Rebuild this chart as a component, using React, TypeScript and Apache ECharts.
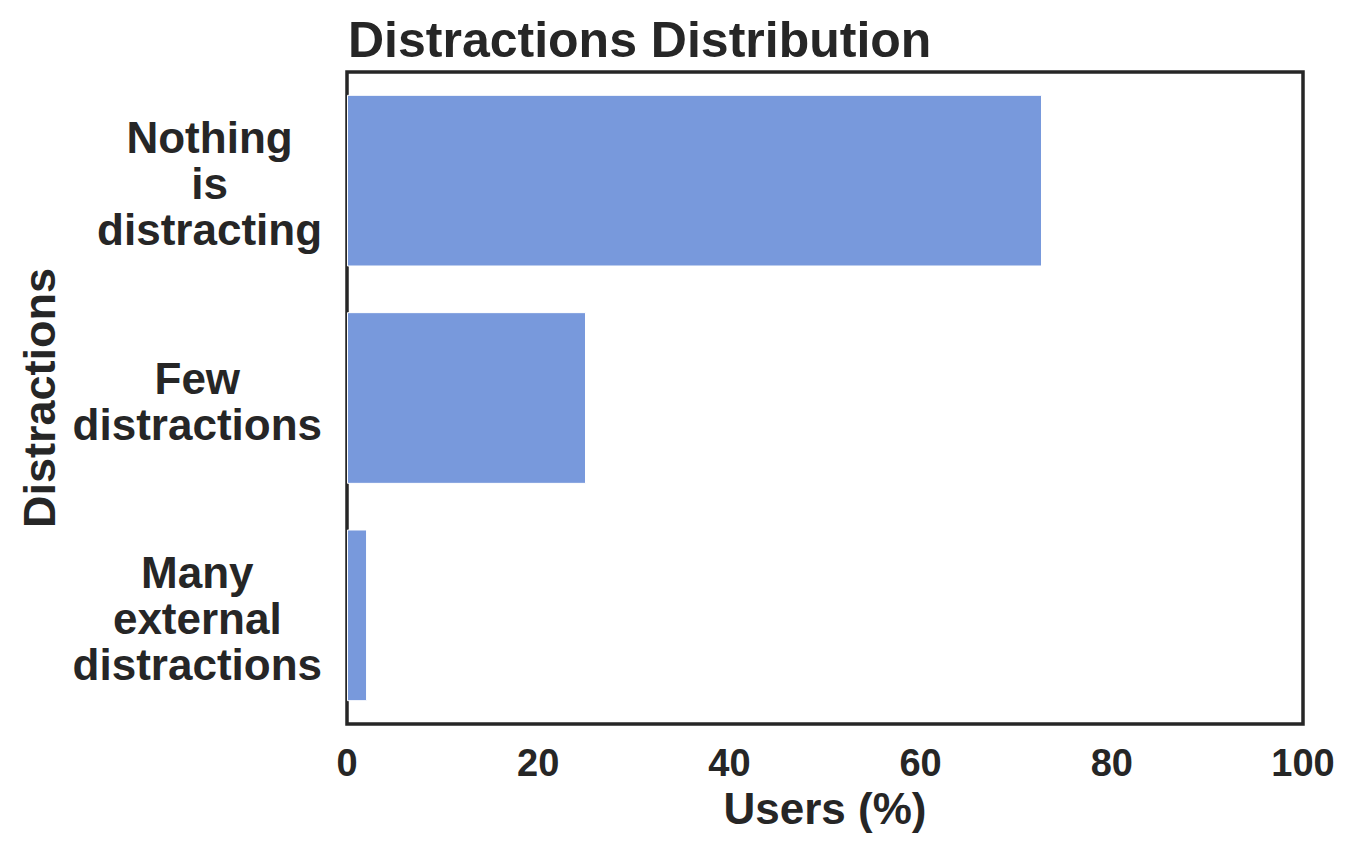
import React, { useEffect, useRef } from "react";
import * as echarts from "echarts";

const categories = ["Nothing\nis\ndistracting", "Few\ndistractions", "Many\nexternal\ndistractions"];
const usersPct = [72.7, 25.0, 2.1];
const xTicks = { min: 0, max: 100, interval: 20 };

const FONT = "'Liberation Sans', Arial, Helvetica, sans-serif";
const INK = "#262626";

export default function App() {
  const ref = useRef<HTMLDivElement>(null);
  useEffect(() => {
    if (!ref.current) return;
    const chart = echarts.init(ref.current, null, { renderer: "svg" });
    chart.setOption({
      animation: false,
      backgroundColor: "#ffffff",
      title: {
        text: "Distractions Distribution",
        left: 343,
        top: 10,
        textStyle: { fontFamily: FONT, fontWeight: "bold", fontSize: 50, color: INK },
      },
      grid: {
        left: 347,
        right: 54,
        top: 72,
        bottom: 134,
        show: true,
        borderColor: INK,
        borderWidth: 3.5,
        backgroundColor: "#ffffff",
      },
      xAxis: {
        type: "value",
        min: xTicks.min,
        max: xTicks.max,
        interval: xTicks.interval,
        name: "Users (%)",
        nameLocation: "middle",
        nameGap: 62,
        nameTextStyle: { fontFamily: FONT, fontWeight: "bold", fontSize: 44, color: INK },
        axisLine: { show: false },
        axisTick: { show: false },
        splitLine: { show: false },
        axisLabel: { fontFamily: FONT, fontWeight: "bold", fontSize: 38, color: INK, margin: 20 },
      },
      yAxis: {
        type: "category",
        inverse: true,
        data: categories,
        name: "Distractions",
        nameLocation: "middle",
        nameGap: 285,
        nameTextStyle: { fontFamily: FONT, fontWeight: "bold", fontSize: 45, color: INK },
        axisLine: { show: false },
        axisTick: { show: false },
        splitLine: { show: false },
        axisLabel: {
          margin: 25,
          align: "right",
          formatter: (v: string) => v.split("\n").map((l) => `{c|${l}}`).join("\n"),
          rich: {
            c: {
              align: "center",
              fontFamily: FONT,
              fontWeight: "bold",
              fontSize: 44,
              lineHeight: 46,
              color: INK,
              padding: [6, 0, 0, 0],
            },
          },
        },
      },
      series: [
        {
          type: "bar",
          data: usersPct,
          barCategoryGap: "21%",
          itemStyle: { color: "#7899DC", borderColor: "#ffffff", borderWidth: 1 },
        },
      ],
    });
    return () => chart.dispose();
  }, []);
  return <div ref={ref} style={{ position: "fixed", left: 0, top: 0, width: 1357, height: 858 }} />;
}
